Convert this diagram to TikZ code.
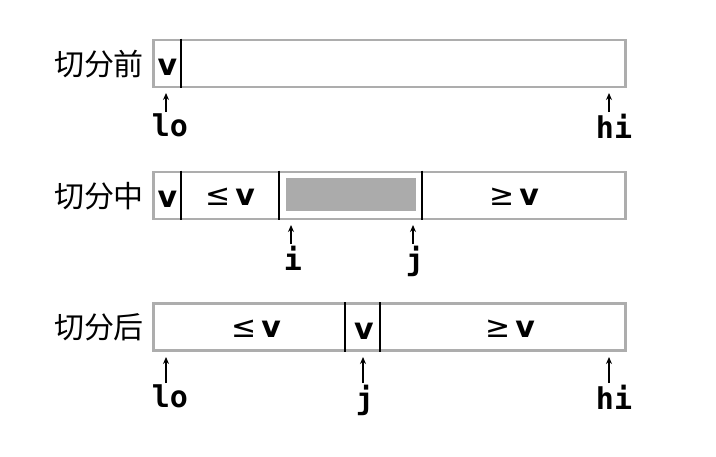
\documentclass[tikz,border=0pt]{standalone}
\usepackage{fontspec}
\setmainfont{DejaVu Sans}
\newfontfamily\cjk{Noto Sans CJK SC}
\newfontfamily\monob{DejaVu Sans Mono Bold}
\newfontfamily\cellbold{DejaVu Sans Bold}
\usetikzlibrary{arrows.meta}
\begin{document}
\begin{tikzpicture}[x=1pt,y=-1pt,
  arraybox/.style={draw=black!32,line width=2.6pt,inner sep=0pt,minimum height=47pt,minimum width=472pt},
  divline/.style={line width=1.7pt,black},
  cell/.style={inner sep=0pt,font=\fontsize{30}{33}\selectfont},
  rowlab/.style={inner sep=0pt,font=\cjk\fontsize{30}{33}\selectfont},
  idx/.style={inner sep=0pt,font=\monob\fontsize{30}{32}\selectfont,anchor=north},
  ptr/.style={line width=1.4pt,-{Stealth[length=7pt,width=6pt]}},
  grayfill/.style={fill=black!33,draw=none}
]
\useasboundingbox (0,0) rectangle (716,456);
% Row 1
\node[rowlab] (r1) at (99,64) {切分前};
\node[arraybox] (b1) at (389.5,63.5) {};
\draw[divline] ([xshift=29pt]b1.north west) -- ([xshift=29pt]b1.south west);
\node[cell] (v1) at (167.5,67) {\cellbold v};
\node[idx] (lo1) at (170,114) {lo};
\node[idx] (hi1) at (614,114) {hi};
\coordinate (lo1t) at (166,93);
\coordinate (hi1t) at (609,93);
\draw[ptr] ([yshift=2pt]lo1.north -| lo1t) -- (lo1t);
\draw[ptr] ([yshift=2pt]hi1.north -| hi1t) -- (hi1t);
% Row 2
\node[rowlab] (r2) at (99,196) {切分中};
\node[arraybox] (b2) at (389.5,195.5) {};
\node[grayfill,minimum width=130pt,minimum height=33pt,inner sep=0pt] (g2) at (350.5,194) {};
\draw[divline] ([xshift=29pt]b2.north west) -- ([xshift=29pt]b2.south west);
\draw[divline] ([xshift=127pt]b2.north west) -- ([xshift=127pt]b2.south west);
\draw[divline] ([xshift=270pt]b2.north west) -- ([xshift=270pt]b2.south west);
\node[cell] (v2) at (167.5,199) {\cellbold v};
\node[cell] (le2) at (230,197) {≤\,\cellbold v};
\node[cell] (ge2) at (514,197) {≥\,\cellbold v};
\node[idx] (i2) at (293,246) {i};
\node[idx] (j2) at (415,246) {j};
\coordinate (i2t) at (291,225);
\coordinate (j2t) at (413,225);
\draw[ptr] ([yshift=2pt]i2.north -| i2t) -- (i2t);
\draw[ptr] ([yshift=2pt]j2.north -| j2t) -- (j2t);
% Row 3
\node[rowlab] (r3) at (99,327) {切分后};
\node[arraybox] (b3) at (389.5,327) {};
\draw[divline] ([xshift=193pt]b3.north west) -- ([xshift=193pt]b3.south west);
\draw[divline] ([xshift=228pt]b3.north west) -- ([xshift=228pt]b3.south west);
\node[cell] (le3) at (256,329) {≤\,\cellbold v};
\node[cell] (v3) at (364,331) {\cellbold v};
\node[cell] (ge3) at (510,329) {≥\,\cellbold v};
\node[idx] (lo3) at (170,385) {lo};
\node[idx] (j3) at (365,385) {j};
\node[idx] (hi3) at (614,385) {hi};
\coordinate (lo3t) at (166,357);
\coordinate (j3t) at (363,357);
\coordinate (hi3t) at (609,357);
\draw[ptr] ([yshift=2pt]lo3.north -| lo3t) -- (lo3t);
\draw[ptr] ([yshift=2pt]j3.north -| j3t) -- (j3t);
\draw[ptr] ([yshift=2pt]hi3.north -| hi3t) -- (hi3t);
\end{tikzpicture}
\end{document}
